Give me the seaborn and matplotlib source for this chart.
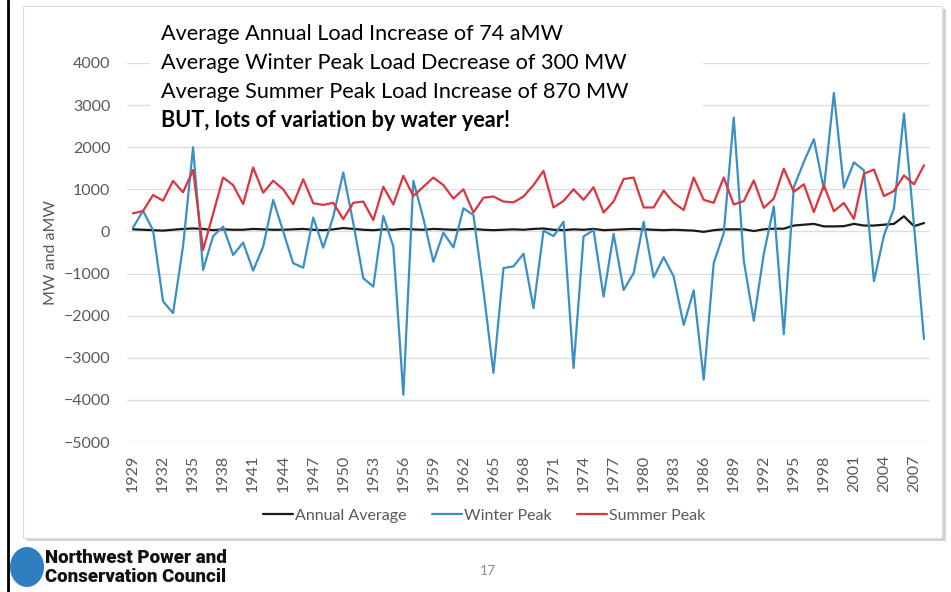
import matplotlib
matplotlib.use('Agg')
import matplotlib.pyplot as plt
from matplotlib.patches import Rectangle, Ellipse
from matplotlib.lines import Line2D
import seaborn as sns
import pandas as pd

years = list(range(1929, 2009))

annual_average = [
    50, 40, 30, 20, 40, 60, 70, 60, 30, 50,
    40, 40, 60, 50, 40, 40, 50, 60, 40, 30,
    50, 80, 60, 40, 30, 50, 40, 60, 50, 40,
    60, 50, 40, 50, 60, 40, 30, 40, 50, 40,
    60, 70, 40, 30, 50, 40, 60, 30, 40, 50,
    60, 50, 40, 30, 40, 30, 20, -10, 30, 50,
    50, 50, 10, 50, 65, 65, 140, 160, 180, 120,
    120, 125, 180, 140, 140, 160, 180, 360, 125, 200,
]

winter_peak = [
    90, 490, 30, -1660, -1940, -350, 2000, -910, -110, 115,
    -560, -265, -930, -360, 750, 0, -755, -860, 330, -385,
    350, 1400, 200, -1110, -1310, 370, -360, -3880, 1200, 310,
    -720, -30, -380, 550, 390, -1400, -3360, -870, -830, -530,
    -1820, 20, -110, 230, -3240, -120, 35, -1545, -60, -1390,
    -990, 230, -1090, -610, -1070, -2220, -1400, -3520, -750, -40,
    2700, -690, -2120, -530, 595, -2440, 1055, 1650, 2190, 1000,
    3290, 1040, 1640, 1450, -1180, -95, 540, 2800, 150, -2555,
]

summer_peak = [
    430, 485, 865, 730, 1200, 930, 1460, -440, 420, 1280,
    1100, 650, 1520, 920, 1205, 1000, 650, 1240, 670, 630,
    680, 290, 680, 710, 270, 1060, 640, 1320, 840, 1060,
    1280, 1100, 780, 1000, 450, 800, 830, 710, 690, 830,
    1100, 1440, 570, 725, 1000, 750, 1050, 450, 710, 1245,
    1280, 570, 570, 970, 680, 510, 1280, 750, 680, 1280,
    640, 720, 1210, 560, 780, 1490, 940, 1120, 460, 1095,
    480, 675, 300, 1370, 1470, 840, 960, 1330, 1120, 1570,
]

series_names = ['Annual Average', 'Winter Peak', 'Summer Peak']
series_colors = ['#1a1a1a', '#3a8fc4', '#dc353d']

notes = [
    'Average Annual Load Increase of 74 aMW',
    'Average Winter Peak Load Decrease of 300 MW',
    'Average Summer Peak Load Increase of 870 MW',
]
bold_note = 'BUT, lots of variation by water year!'

df = pd.DataFrame({
    'Year': years * 3,
    'MW': annual_average + winter_peak + summer_peak,
    'Series': [series_names[0]] * len(years) + [series_names[1]] * len(years)
              + [series_names[2]] * len(years),
})

sns.set_theme(style='white')
plt.rcParams['font.family'] = ['Lato', 'DejaVu Sans']

W, H = 951, 592
fig = plt.figure(figsize=(W / 100, H / 100), dpi=100)
fig.patch.set_facecolor('white')

# chart frame with soft shadow
fig.add_artist(Rectangle((26 / W, 1 - 541 / H), 920 / W, 532 / H, transform=fig.transFigure,
                         facecolor='#d2d2d2', edgecolor='none', zorder=-2))
fig.add_artist(Rectangle((23 / W, 1 - 538 / H), 919 / W, 532 / H, transform=fig.transFigure,
                         facecolor='white', edgecolor='#dcdcdc', linewidth=0.8, zorder=-1))
fig.add_artist(Line2D([8 / W, 8 / W], [0, 1], transform=fig.transFigure, color='black', linewidth=2))

ax = fig.add_axes([127 / W, 1 - 442 / H, 803 / W, 379 / H])
ax.set_facecolor('none')
ax.set_zorder(2)

sns.lineplot(data=df, x='Year', y='MW', hue='Series', hue_order=series_names,
             palette=series_colors, linewidth=1.6, ax=ax, legend=False, zorder=3)

ax.set_xlim(1928.4, 2008.6)
ax.set_ylim(-5000, 4000)
ax.set_yticks(range(-5000, 4001, 1000))
ax.set_xticks(years[::3])
ax.set_xticklabels([str(y) for y in years[::3]], rotation=90)
ax.tick_params(axis='y', length=0, pad=12, labelsize=11.5, labelcolor='#595959')
ax.tick_params(axis='x', length=0, pad=9, labelsize=11.5, labelcolor='#595959')
ax.set_axisbelow(True)
ax.grid(axis='y', color='#dedede', linewidth=1)
ax.grid(axis='x', visible=False)
for s in ax.spines.values():
    s.set_visible(False)
ax.set_xlabel('')
ax.set_ylabel('MW and aMW', fontsize=11.5, color='#595959', labelpad=4)

# white text box hiding the top gridlines
ax.add_patch(Rectangle((150 / W, 1 - 135 / H), 553 / W, 115 / H, transform=fig.transFigure,
                       facecolor='white', edgecolor='none', zorder=1.5, clip_on=False))
for i, line in enumerate(notes):
    ax.text(161 / W, 1 - (40 + 29 * i) / H, line, fontsize=15.6, color='black', va='baseline',
            transform=fig.transFigure, zorder=4)
ax.text(161 / W, 1 - 127 / H, bold_note, fontsize=15.6, color='black', va='baseline',
        fontweight='bold', transform=fig.transFigure, zorder=4)

handles = [Line2D([], [], color=c, linewidth=1.6) for c in series_colors]
fig.legend(handles, series_names, loc='center', bbox_to_anchor=(484 / W, 1 - 516 / H), ncol=3,
           frameon=False, handlelength=1.9, handletextpad=0.1, columnspacing=1.6,
           prop={'size': 11.5}, labelcolor='#595959')

# footer
fig.add_artist(Ellipse((27 / W, 1 - 567 / H), 34 / W, 40 / H, transform=fig.transFigure,
                       facecolor='#2f7fc0', edgecolor='none'))
fig.text(45 / W, 1 - 558 / H, 'Northwest Power and', fontsize=13.5, fontweight='heavy',
         color='#111111', va='center', family=['Roboto', 'DejaVu Sans'])
fig.text(45 / W, 1 - 577 / H, 'Conservation Council', fontsize=13.5, fontweight='heavy',
         color='#111111', va='center', family=['Roboto', 'DejaVu Sans'])
fig.text(488 / W, 1 - 571 / H, '17', fontsize=10, color='#8c8c8c', ha='center', va='center')

fig.savefig('out.png', dpi=100)
